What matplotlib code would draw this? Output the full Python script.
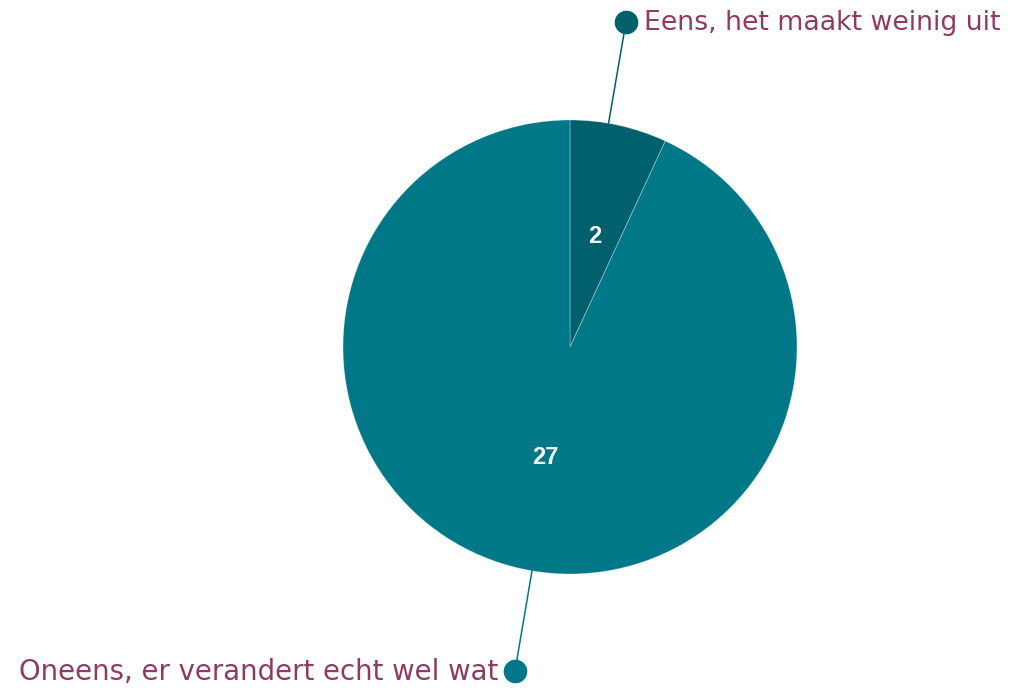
import matplotlib.pyplot as plt
import numpy as np

# survey answers
labels = ['Eens, het maakt weinig uit', 'Oneens, er verandert echt wel wat']
counts = [2, 27]
colors = ['#00606c', '#007887']
text_color = '#8e3a63'

W, H = 1010, 688
fig = plt.figure(figsize=(W / 100, H / 100), dpi=100)
ax = fig.add_axes([0, 0, 1, 1])

cx, cy, r = 570, H - 347, 227
wedges, _ = ax.pie(counts, colors=colors, startangle=90, counterclock=False,
                   center=(cx, cy), radius=r, frame=True,
                   wedgeprops=dict(edgecolor=(1, 1, 1, 0.35), linewidth=0.6))
ax.set_xlim(0, W)
ax.set_ylim(0, H)
ax.set_aspect('equal')
ax.axis('off')

# value labels inside the slices
for w, n in zip(wedges, counts):
    mid = np.deg2rad((w.theta1 + w.theta2) / 2)
    ax.text(cx + 0.5 * r * np.cos(mid), cy + 0.5 * r * np.sin(mid), str(n),
            color='white', fontsize=17, fontweight='bold', family='Liberation Sans',
            ha='center', va='center')

# leader lines with dots and category labels
dots = [(626, H - 22), (515, H - 671)]
for (dx, dy), lab, c, side in zip(dots, labels, colors, ['left', 'right']):
    ang = np.arctan2(dy - cy, dx - cx)
    ex, ey = cx + r * np.cos(ang), cy + r * np.sin(ang)
    ax.plot([ex, dx], [ey, dy], color=c, lw=1.1, zorder=1)
    ax.plot(dx, dy, 'o', ms=16, color=c, zorder=3)
    if side == 'left':
        ax.text(dx + 18, dy - 1, lab, ha='left', va='center', color=text_color,
                fontsize=19.3, family='DejaVu Sans')
    else:
        ax.text(dx - 17, dy - 1, lab, ha='right', va='center', color=text_color,
                fontsize=19.8, family='DejaVu Sans')

fig.savefig('out.png', dpi=100, facecolor='white')
